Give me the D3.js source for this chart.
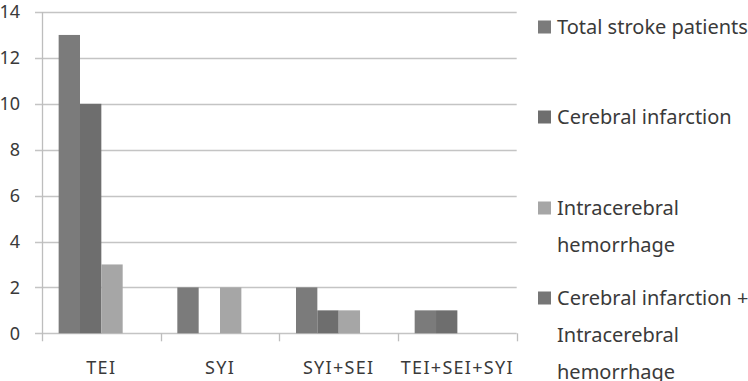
<!DOCTYPE html>
<html>
<head>
<meta charset="utf-8">
<script src="https://cdn.jsdelivr.net/npm/d3@7"></script>
<style>
  body { margin: 0; background: #fff; }
  text { font-family: "Noto Sans", "Open Sans", sans-serif; fill: #3a3a3a; }
</style>
</head>
<body>
<div id="chart"></div>
<script>
// data
const categories = ["TEI", "SYI", "SYI+SEI", "TEI+SEI+SYI"];
const seriesNames = ["Total stroke patients", "Cerebral infarction", "Intracerebral hemorrhage", "Cerebral infarction + Intracerebral hemorrhage"];
const legendLines = [["Total stroke patients"], ["Cerebral infarction"], ["Intracerebral", "hemorrhage"], ["Cerebral infarction +", "Intracerebral", "hemorrhage"]];
const totalStroke = [13, 2, 2, 1];
const cerebralInfarction = [10, 0, 1, 1];
const intracerebralHem = [3, 2, 1, 0];
const bothTypes = [0, 0, 0, 0];
const yTicks = [0, 2, 4, 6, 8, 10, 12, 14];
const colors = ["#7b7b7b", "#6e6e6e", "#a6a6a6", "#767676"];

const seriesValues = [totalStroke, cerebralInfarction, intracerebralHem, bothTypes];
const width = 748, height = 381;
const plot = { left: 42, right: 516.7, top: 12, bottom: 333.3 };

const svg = d3.select("#chart").append("svg")
    .attr("width", width)
    .attr("height", height);

const xScale = d3.scaleBand()
    .domain(categories)
    .range([plot.left, plot.right]);
const xInner = d3.scaleBand()
    .domain(seriesNames)
    .range([0, xScale.bandwidth()])
    .paddingOuter(0.78)
    .paddingInner(0);
const yScale = d3.scaleLinear()
    .domain([0, 14])
    .range([plot.bottom, plot.top]);

// gridlines with little ticks on the left
svg.append("g")
    .selectAll("line")
    .data(yTicks)
    .join("line")
    .attr("x1", plot.left - 7)
    .attr("x2", plot.right)
    .attr("y1", d => Math.round(yScale(d)) + 0.5)
    .attr("y2", d => Math.round(yScale(d)) + 0.5)
    .attr("stroke", "#c4c4c4")
    .attr("stroke-width", 1.3);

// y axis line
svg.append("line")
    .attr("x1", plot.left + 0.5).attr("x2", plot.left + 0.5)
    .attr("y1", plot.top).attr("y2", plot.bottom + 8)
    .attr("stroke", "#bdbdbd")
    .attr("stroke-width", 1.3);

// category tick marks
const catEdges = categories.map(c => xScale(c)).concat([plot.right]);
svg.append("g")
    .selectAll("line")
    .data(catEdges.slice(1))
    .join("line")
    .attr("x1", d => Math.round(d) + 0.5)
    .attr("x2", d => Math.round(d) + 0.5)
    .attr("y1", plot.bottom)
    .attr("y2", plot.bottom + 8)
    .attr("stroke", "#bdbdbd")
    .attr("stroke-width", 1.3);

// y labels
svg.append("g")
    .selectAll("text")
    .data(yTicks)
    .join("text")
    .attr("x", 20)
    .attr("y", d => yScale(d))
    .attr("dy", "0.35em")
    .attr("text-anchor", "end")
    .style("font-size", "18px")
    .text(d => d);

// x labels
svg.append("g")
    .selectAll("text")
    .data(categories)
    .join("text")
    .attr("x", d => xScale(d) + xScale.bandwidth() / 2)
    .attr("y", 368)
    .attr("dy", "0.35em")
    .attr("text-anchor", "middle")
    .style("font-size", "18px")
    .style("letter-spacing", "1.3px")
    .text(d => d);

// bars
seriesValues.forEach((vals, si) => {
    svg.append("g")
        .selectAll("rect")
        .data(vals.map((v, i) => ({ cat: categories[i], v })))
        .join("rect")
        .attr("x", d => xScale(d.cat) + xInner(seriesNames[si]))
        .attr("y", d => yScale(d.v))
        .attr("width", xInner.bandwidth())
        .attr("height", d => yScale(0) - yScale(d.v))
        .attr("fill", colors[si]);
});

// legend
const legendY = [27, 117, 208, 298];
const lineGap = 37;
const legend = svg.append("g");
legendLines.forEach((lines, i) => {
    legend.append("rect")
        .attr("x", 538)
        .attr("y", legendY[i] - 6.5)
        .attr("width", 13)
        .attr("height", 13)
        .attr("fill", colors[i]);
    lines.forEach((ln, j) => {
        legend.append("text")
            .attr("x", 557)
            .attr("y", legendY[i] + j * lineGap)
            .attr("dy", "0.35em")
            .style("font-size", "20px")
            .text(ln);
    });
});
</script>
</body>
</html>
